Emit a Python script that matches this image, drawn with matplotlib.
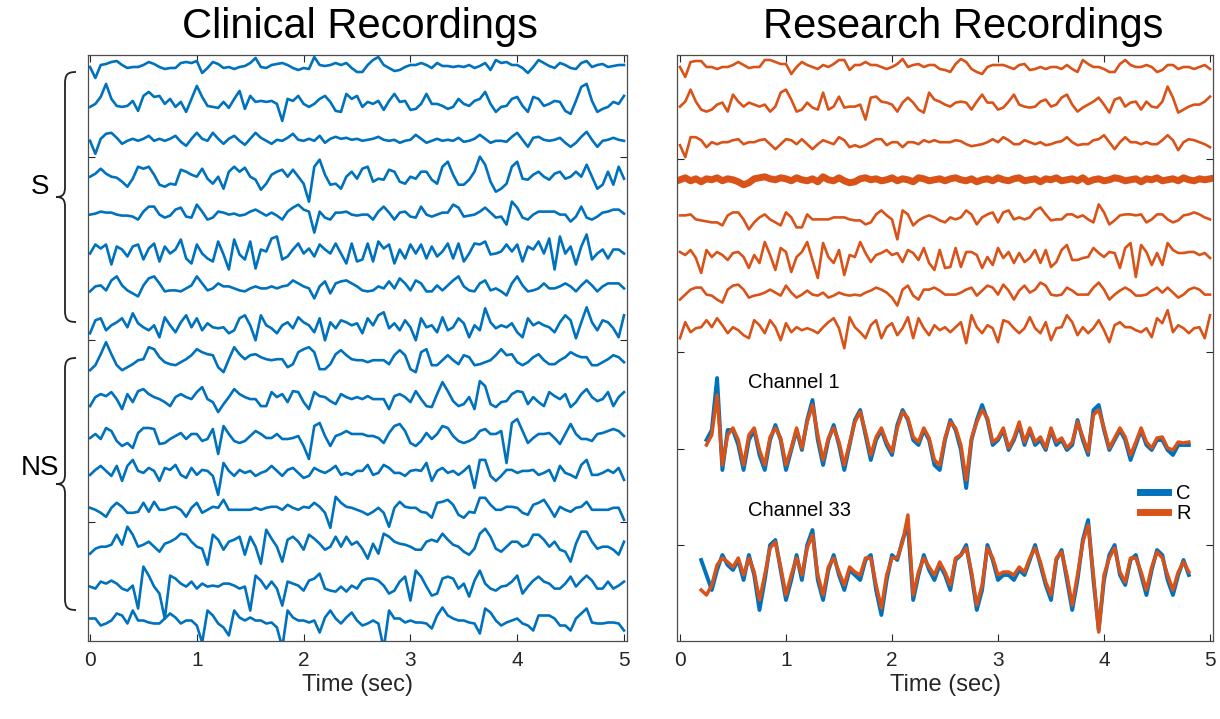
import numpy as np
import matplotlib
matplotlib.use("Agg")
import matplotlib.pyplot as plt
from matplotlib.path import Path
from matplotlib.patches import PathPatch

plt.rcParams['font.family'] = ['Liberation Sans', 'DejaVu Sans']

# ---------------- data (amplitudes, sampled every 0.05 s from 0 to 5 s) -------------
clinical = [
    [0,-11,2,3,5,6,2,-1,0,0,2, 5,3,0,-2,-1,-1,4,5,4,6, -6,-1,5,3,-1,0,-2,0,1,4, 9,0,-1,2,3,4,2,-1,-3,-1, -2,10,2,1,2,4,2,4,-1,-5, -5,2,7,10,2,-1,-4,-3,0,2, 2,4,2,-1,4,1,1,0,1,0, 2,-1,1,4,-3,7,4,5,2,2, -1,-6,0,7,4,1,-1,4,2,-1, -2,4,6,0,2,3,0,1,2,2],
    [-3,0,7,20,5,-2,-3,-2,3,-7,8, 12,7,8,0,5,-3,2,-8,5,18, 7,-2,-3,-4,2,-4,5,13,-5,8, 2,3,2,3,0,-17,5,3,8,0, -3,0,5,8,2,-7,-8,10,5,8, -3,2,0,3,-6,3,10,2,3,-6, -5,0,10,0,0,-2,-5,-3,5,0, -2,3,5,12,0,-8,-3,-2,5,7, -2,-8,7,5,-2,0,3,2,-7,-10, 3,17,20,3,-8,-5,-3,2,0,8],
    [0,-13,2,7,8,3,-3,0,2,0,2, 5,0,2,0,2,5,-1,-5,2,8, 2,0,8,2,-3,2,5,0,-4,2, 8,3,0,-3,1,0,3,7,1,0, 2,0,5,-2,2,4,2,3,1,2, 0,1,2,4,1,0,1,-2,0,1, 6,2,-2,0,2,0,1,0,3,-1, 0,2,6,2,-2,0,0,-1,4,8, 1,-6,3,4,1,0,1,3,-2,-6, -2,4,9,1,-6,0,1,3,1,0],
    [1,4,9,4,1,0,-4,-9,-1,11,9, 11,3,-7,-9,-6,-7,8,6,3,1, 9,-1,-6,1,-11,6,11,6,10,1, -2,-12,-6,3,6,8,1,8,1,-6, -24,11,18,3,-7,-6,-11,1,6,-1, 9,11,-4,-1,-2,8,6,-4,-6,1, -1,6,6,-2,-6,11,16,3,-7,-7, -2,6,21,13,-4,-14,-11,-6,11,16, -1,-2,3,6,1,-2,4,6,-1,1, 6,1,13,1,-11,-7,6,-7,11,-1],
    [0,1,3,2,2,0,-1,-1,-2,-5,3, 8,8,0,-3,-1,5,7,-2,-3,10, 3,-5,-3,3,2,0,1,-1,0,3, 5,2,-1,2,-1,-5,3,7,10,5, 3,-18,3,-3,-5,2,2,3,0,-1, 0,0,-5,3,8,2,-5,2,3,-2, -3,8,0,-2,0,2,2,10,7,-2, -1,0,3,7,2,-3,-2,-10,13,7, -3,-5,0,3,3,3,3,0,0,-7, -2,8,-3,-5,-2,2,3,5,5,1],
    [-2,7,3,7,-13,5,2,-5,5,7,-8, 3,8,-10,5,-2,2,12,-7,-12,7, -2,-7,-10,10,-3,-18,12,-3,-8,10, -17,2,0,13,15,-8,-5,2,8,-2, 3,-5,7,2,-2,8,-2,-12,8,-10, -8,8,-10,10,3,7,-12,2,-7,7, -2,7,-7,5,-5,0,8,-7,8,-10, -2,8,7,10,-3,-2,0,7,0,7, -10,5,2,10,-2,13,-18,15,-2,5, -13,5,17,-8,-2,2,-7,2,2,-2],
    [-3,2,3,-2,8,12,3,-2,-5,-8,3, 10,12,5,-3,-2,-2,-3,0,3,12, 5,-2,0,5,2,2,0,-2,-3,0, 2,0,0,2,0,2,3,8,5,2, 0,-10,2,7,-5,5,7,8,5,2, -2,-3,-2,2,0,7,0,10,5,-2, 8,5,-3,-3,3,-2,3,8,12,2, -2,-3,5,8,-2,0,-3,-7,5,12, 3,-3,-2,0,5,0,0,2,5,2, -3,3,8,3,-3,2,5,5,5,0],
    [-8,5,7,-5,0,3,7,-2,12,2,-2, -5,0,-12,8,0,-7,3,10,-2,7, -5,2,-2,-3,-2,-8,-5,7,10,0, -15,10,0,-3,-8,0,3,-3,8,3, 0,-7,7,-15,3,-3,5,3,0,2, -8,7,0,10,13,-3,2,-5,5,-2, -15,7,-2,0,-7,8,-5,-2,7,2, -12,0,-5,17,3,-3,0,-2,2,-7, -12,7,0,3,0,-2,-7,3,10,5, -13,3,18,3,-5,5,3,-3,-12,10],
    [-8,-3,8,20,8,-3,-8,-5,-2,2,3, 15,13,5,0,-2,-3,0,3,7,13, 10,8,7,-5,-10,3,15,8,3,7, 8,5,3,2,3,3,-5,-2,10,13, 15,10,-7,-7,-2,8,12,7,3,2, 2,0,2,2,2,-2,7,12,7,-7, -10,10,13,-3,-3,2,7,2,-2,7, 5,-3,-2,0,2,7,13,7,8,0, -3,0,5,8,2,-2,-2,2,5,10, 7,5,5,-3,-3,0,3,7,5,0],
    [-7,2,5,3,7,0,-10,5,-3,8,10, 5,2,0,-3,-7,2,5,2,0,7, 12,0,-3,-13,-5,2,10,5,2,0, 0,-7,-7,7,2,5,-3,8,7,-3, -10,7,3,2,-2,-5,5,2,0,2, 0,3,0,0,0,-10,3,5,2,-3, 8,0,-7,-8,5,17,8,-2,-7,-5, 2,-10,18,13,-5,-8,-3,-2,5,8, 7,-5,2,-3,-7,7,3,0,5,-8, -3,5,10,2,-2,0,7,-7,2,7],
    [-2,2,-3,8,5,-5,-10,-7,-12,3,8, 8,7,-8,-7,-3,0,3,-3,2,2, -5,-3,7,-18,10,2,-5,-7,-5,0, 5,2,-2,-2,2,-3,-3,-2,0,-10, -23,10,13,0,-10,0,2,5,2,2, 2,0,0,-2,-7,3,10,12,5,-7, -10,-5,3,-3,2,10,8,0,-5,-7, -5,-2,5,7,2,2,5,-27,13,17, 5,-7,-2,2,2,3,-2,-8,2,12, 2,-3,-3,-5,2,3,5,7,5,0],
    [-2,3,7,2,-3,7,-8,7,13,2,0, 5,2,-8,5,3,8,-2,-5,5,-2, 3,2,-3,-22,10,2,-3,3,0,2, -3,0,2,7,2,-3,3,5,0,-5, -3,5,2,0,3,7,-2,0,-2,2, 2,8,-2,0,8,5,0,0,-3,2, 3,2,10,-8,2,5,0,2,-2,2, 7,-15,13,13,-3,-8,-3,3,3,0, 2,2,3,-2,0,3,-8,7,0,-2, -5,8,13,-2,-2,0,3,0,5,-7],
    [2,0,-3,-7,2,7,3,-3,-3,-2,7, -2,8,0,0,2,3,0,-7,2,7, -3,0,3,2,10,0,0,0,0,0, 2,0,2,3,3,0,5,2,0,3, 2,7,3,-3,-18,13,7,3,2,0, -2,-5,-2,2,-3,-17,2,8,3,2, 2,-2,-3,-8,7,8,10,5,-5,-8, -2,-3,12,12,5,0,0,3,3,2, -3,-5,5,7,10,2,-7,3,0,-2, 2,3,8,0,0,0,0,2,2,-10],
    [-7,-2,0,0,2,12,2,20,12,0,2, 5,0,-5,3,5,8,13,12,5,0, -2,-18,12,7,-3,5,7,10,-8,10, 0,-17,17,8,0,-15,7,10,5,-3, 12,8,3,-3,0,10,0,10,2,5, -2,-12,3,-7,13,10,5,3,2,0, -3,-3,5,7,5,13,7,2,0,-5, -8,-2,13,18,10,-2,-5,0,5,5, 0,2,12,12,7,0,5,-3,-5,-15, 3,15,15,5,-2,0,0,-3,-8,5],
    [-3,-5,2,0,3,0,-5,-7,-2,-25,17, 8,-3,-10,-35,8,5,0,-3,2,-5, 0,-3,-2,-3,0,0,-2,-5,-3,-27, 8,3,-5,2,-5,-22,2,0,-2,-7, 3,5,10,-5,-7,-8,-3,-8,-2,-5, 3,5,5,3,-2,-10,-7,2,7,-17, 13,7,-3,-12,-10,5,7,5,-5,0, -13,3,13,0,-5,-7,-3,-2,2,8, -10,-3,3,7,2,0,-5,-5,0,7, -3,3,8,3,-5,-5,2,-5,-2,2],
    [2,2,-5,-3,0,7,5,-3,10,0,0, -2,-3,-3,2,7,3,-3,0,0,-5, -22,10,5,-3,-7,-15,10,3,0,3, 0,0,-3,-2,-7,-27,10,3,0,0, -2,0,-12,3,10,2,-3,3,8,0, -5,-3,0,-3,-28,10,2,2,-2,0, -2,-2,-3,-8,5,13,5,2,0,0, -2,-3,-13,12,8,0,-5,-2,0,2, -3,-5,-10,5,5,5,2,-5,-5,-10, 2,7,12,-2,-3,-3,-2,-2,-3,-10],
]

research = [
    [0,-10,5,6,6,0,0,-2,0,0,2, 5,2,-1,0,0,7,7,5,3,3, -7,0,5,2,0,-2,2,0,3,7, 7,-3,2,2,5,2,2,0,-2,0, 3,8,0,2,3,0,2,2,-2,-3, -5,3,8,5,-2,-5,-7,0,2,2, 2,0,-2,2,3,-3,-2,0,-2,0, 0,-2,2,-2,-5,7,3,0,0,-2, -5,-5,3,7,2,0,0,2,0,-5, -3,2,2,-2,0,0,-2,0,2,-2],
    [-2,3,15,3,-5,-7,-5,0,2,-7,10, 3,-2,2,0,-2,0,-7,-2,12,15, 5,-7,-5,2,-3,-5,12,-5,-2,8, -3,-2,-2,0,-15,7,8,3,2,0, -7,2,7,2,-5,-8,12,5,3,0, -2,2,3,2,-5,3,10,2,2,-5, -3,3,10,0,-2,-3,-2,3,5,-2, 0,7,10,0,-7,-3,0,3,7,0, -8,5,7,-2,2,3,-5,3,-2,-3, 3,18,7,-8,-5,-2,0,0,3,8],
    [-3,-15,5,5,2,-5,0,-2,0,0,2, 3,-2,0,0,2,3,-2,-7,-2,3, 2,-2,3,-2,-7,-2,2,0,-2,5, 2,-5,-3,-5,-3,0,3,3,-3,0, 0,-5,0,0,-2,2,0,2,0,0, 0,2,1,-2,-4,-3,-2,0,3,0, 5,2,-2,-2,2,0,-2,0,-3,-2, 0,1,5,0,-3,-2,-2,2,3,7, 0,-7,0,5,0,0,-2,0,-2,-2, 2,7,2,-8,0,3,2,0,-2,-5],
    [0,2,-1,1,-2,1,0,2,-1,1,0, -2,-5,-3,1,2,3,1,0,2,1, -1,2,0,-1,1,-2,3,0,-1,2, -1,-3,-2,1,2,0,1,-1,0,2, -1,1,0,-2,2,1,-1,0,1,-1, 1,2,0,-1,1,-2,0,1,-1,2, 0,-1,1,2,-1,0,1,-2,1,0, 2,-1,0,1,-1,2,-2,0,1,-1, 0,2,1,-1,0,1,-2,1,0,2, -1,0,1,-1,2,0,-1,1,0,1],
    [2,2,3,-2,-3,-4,-5,-5,-8,2,5, 5,-2,-12,-5,0,3,-2,-5,-8,5, 0,-10,-10,3,-2,-2,-2,-2,0,0, 0,-2,-3,-3,-7,-5,3,7,2,-2, -22,7,3,-8,-3,0,2,0,-3,-5, 0,-2,0,7,3,-7,0,3,5,-5, 5,7,-2,0,-2,0,7,10,3,-3, -2,-2,3,3,0,2,-2,-5,13,5, -7,-3,2,3,3,2,3,-5,-2,3, 3,-2,-5,-3,2,3,5,3,0,-2],
    [3,0,5,-3,-18,5,-2,3,0,-5,2, 3,-2,-13,0,-8,13,0,-15,7,3, -17,-2,3,13,-5,-23,12,-2,-8,5, -20,0,-2,13,2,-7,0,2,5,0, 2,-7,5,2,-5,7,-8,-15,5,-13, -12,7,-12,3,3,0,-13,-2,-10,7, -3,3,-8,2,-7,-3,5,-8,5,-12, -7,5,10,-5,-5,-3,-2,7,2,-2, 3,2,-13,7,12,-22,10,3,-10,2, -10,12,5,2,2,3,3,0,2,-3],
    [-7,-2,3,5,5,-2,-3,-7,-10,3,7, 8,3,-5,-3,-2,0,3,0,-3,7, 0,-5,-2,2,-2,-3,0,-5,-3,0, -2,-3,-2,-3,0,2,5,3,0,-5, -13,3,7,-3,-7,3,3,5,2,-2, -2,-2,0,3,5,-3,2,7,5,-2, 8,2,-7,2,7,0,3,10,7,-2, -3,-2,5,2,-2,-2,-2,5,10,3, -7,-2,2,5,2,-3,-3,-2,2,5, 0,5,0,-5,-2,3,5,3,-2,-2],
    [-8,8,-2,2,3,10,3,12,5,-3,3, 0,-5,-8,10,5,-3,10,3,-10,7, -2,3,0,2,0,-3,3,8,12,2, -18,13,3,-2,-8,5,10,-8,3,7, -5,2,13,-8,12,2,-5,5,0,3, -2,3,8,-13,15,3,-3,5,2,-12, 10,8,2,-3,2,13,2,-3,8,-10, 2,3,15,8,-5,3,-3,2,10,0, -12,5,8,3,3,0,-2,2,-7,12, 7,20,-2,5,2,-3,2,3,-8,15],
]

# Overlaid single-channel comparison (clinical "C" vs research "R"), 0.05 s steps
ch1_start, ch33_start = 0.25, 0.20
ch1_C = [0,10,62,-30,10,10,-5,-30,0,10,-15,-30,0,15,0,-30,-10,10,-10,20,40,0,-25,0,15,-5,-30,-5,20,30,
         5,-20,0,10,-5,-15,15,30,20,0,-5,10,0,-25,-30,0,20,10,-10,-48,0,20,35,20,-5,0,10,-10,0,15,
         -5,10,-5,0,-10,10,-5,0,-10,-5,20,0,-15,30,35,10,-10,0,10,0,-20,-5,10,-5,-10,0,0,-10,-15,-5,-5,-5]
ch1_R = [-5,5,45,-25,5,12,0,-25,5,12,-10,-25,3,12,2,-25,-8,12,-8,18,35,5,-20,2,12,-2,-25,-3,18,28,
         8,-15,3,12,-2,-12,12,28,22,3,-2,12,2,-20,-25,2,18,12,-5,-40,2,18,30,22,-2,2,12,-8,2,18,
         -2,12,-2,3,-8,12,-2,2,-8,-2,18,3,-12,25,30,12,-8,2,12,3,-15,-2,12,-2,-8,2,3,-8,-10,-2,-3,-2]
ch33_C = [10,-5,-20,0,15,5,0,10,-10,15,-5,-40,-10,25,30,0,-30,-10,15,-10,25,40,-10,-30,0,15,-5,-20,0,-5,
          -10,10,15,-20,-45,-10,15,10,30,45,-30,-5,15,0,-10,5,-5,-20,10,15,25,-5,-40,-20,25,10,-10,-5,-5,-10,
          0,-5,10,25,5,-15,-30,10,20,-10,-40,-10,30,50,-10,-60,-10,15,25,-5,-15,10,15,-5,-25,0,20,15,-10,-25,-5,10,-5]
ch33_R = [-20,-25,-15,5,12,8,3,12,-5,12,-2,-30,-5,22,28,3,-25,-5,12,-5,22,35,-5,-25,3,12,-2,-15,3,-2,
          -5,12,12,-15,-38,-5,12,12,28,55,-25,-2,12,3,-5,8,-2,-15,12,15,22,-2,-35,-15,22,12,-5,-2,-2,-5,
          3,-2,12,22,8,-12,-25,12,18,-5,-35,-5,28,45,-5,-62,-5,12,22,-2,-12,12,12,-2,-20,3,18,12,-5,-20,-2,8,-2]

xticks = [0, 1, 2, 3, 4, 5]
group_labels = ["S", "NS"]
legend_labels = ["C", "R"]

# ---------------- styling / layout --------------------------------------------------
BLUE = "#0072BD"
ORANGE = "#D95319"
AXC = "#262626"
W, H = 1220, 719
fig = plt.figure(figsize=(W / 100, H / 100), dpi=100)

def px_axes(x0, y0, x1, y1):
    return fig.add_axes([x0 / W, 1 - y1 / H, (x1 - x0) / W, (y1 - y0) / H])

axL = px_axes(88, 55, 627, 641)
axR = px_axes(677, 55, 1213, 641)

def style(ax, xl, yt):
    ax.set_xlim(*xl)
    ax.set_ylim(-574, 12)
    ax.set_xticks(xticks)
    ax.set_xticklabels([str(v) for v in xticks], fontsize=15)
    ax.set_yticks(yt)
    ax.set_yticklabels([])
    ax.tick_params(direction="in", top=True, right=True, length=5, width=0.8,
                   colors=AXC, labelcolor="#262626", pad=7)
    for s in ax.spines.values():
        s.set_color("#4d4d4d")
        s.set_linewidth(0.9)
    ax.set_xlabel("Time (sec)", fontsize=17, color="#262626", labelpad=3)

style(axL, (-0.019, 5.028), [-455, -273, -90])
style(axR, (-0.028, 5.028), [-478, -382, -285, -92])

spL = 36.9
for i, tr in enumerate(clinical):
    v = np.asarray(tr, float)
    t = np.linspace(0, 5, len(v))
    axL.plot(t, v - i * spL, color=BLUE, lw=1.9, solid_joinstyle="round")

spR = 37.6
for i, tr in enumerate(research):
    v = np.asarray(tr, float)
    t = np.linspace(0, 5, len(v))
    lw = 5.0 if i == 3 else 1.9
    axR.plot(t, v - i * spR, color=ORANGE, lw=lw, solid_joinstyle="round")

base1, base33 = -373, -503
for start, c, r, base in [(ch1_start, ch1_C, ch1_R, base1), (ch33_start, ch33_C, ch33_R, base33)]:
    tc = start + 0.05 * np.arange(len(c))
    tr_ = start + 0.05 * np.arange(len(r))
    axR.plot(tc, np.asarray(c) + base, color=BLUE, lw=2.8, label=legend_labels[0] if base == base1 else None)
    axR.plot(tr_, np.asarray(r) + base, color=ORANGE, lw=2.5, label=legend_labels[1] if base == base1 else None)

axR.text(0.64, -316, "Channel 1", fontsize=14.5, va="center", ha="left")
axR.text(0.64, -443, "Channel 33", fontsize=14.5, va="center", ha="left")
leg = axR.legend(loc="upper left", bbox_to_anchor=((1140 - 677) / 536, 1 - (484 - 55) / 586),
                 frameon=False, fontsize=14.5, handlelength=1.4, handletextpad=0.4,
                 labelspacing=0.05, borderaxespad=0, borderpad=0)
for h in leg.get_lines():
    h.set_linewidth(5)

# ---------------- titles, braces, group labels ----------------------------------------
fig.text(360 / W, 1 - 27 / H, "Clinical Recordings", fontsize=30, ha="center", va="center")
fig.text(963 / W, 1 - 27 / H, "Research Recordings", fontsize=30, ha="center", va="center")

ov = fig.add_axes([0, 0, 1, 1], zorder=-1)
ov.set_xlim(0, W)
ov.set_ylim(H, 0)
ov.axis("off")

def brace(ytop, ybot, xl=65, tip=56, end=76):
    ym = (ytop + ybot) / 2
    verts = [(end, ytop), (xl + 2, ytop), (xl, ytop + 3), (xl, ytop + 12),
             (xl, ym - 10),
             (xl, ym - 3), (xl - 2, ym), (tip, ym),
             (xl - 2, ym), (xl, ym + 3), (xl, ym + 10),
             (xl, ybot - 12),
             (xl, ybot - 3), (xl + 2, ybot), (end, ybot)]
    codes = [Path.MOVETO, Path.CURVE4, Path.CURVE4, Path.CURVE4,
             Path.LINETO,
             Path.CURVE4, Path.CURVE4, Path.CURVE4,
             Path.CURVE4, Path.CURVE4, Path.CURVE4,
             Path.LINETO,
             Path.CURVE4, Path.CURVE4, Path.CURVE4]
    ov.add_patch(PathPatch(Path(verts, codes), fill=False, lw=1.3, color="#222222"))

brace(72, 322)
brace(358, 610)
ov.text(40, 187, group_labels[0], fontsize=20, ha="center", va="center")
ov.text(40, 468, group_labels[1], fontsize=20, ha="center", va="center")

fig.savefig("out.png", dpi=100)
